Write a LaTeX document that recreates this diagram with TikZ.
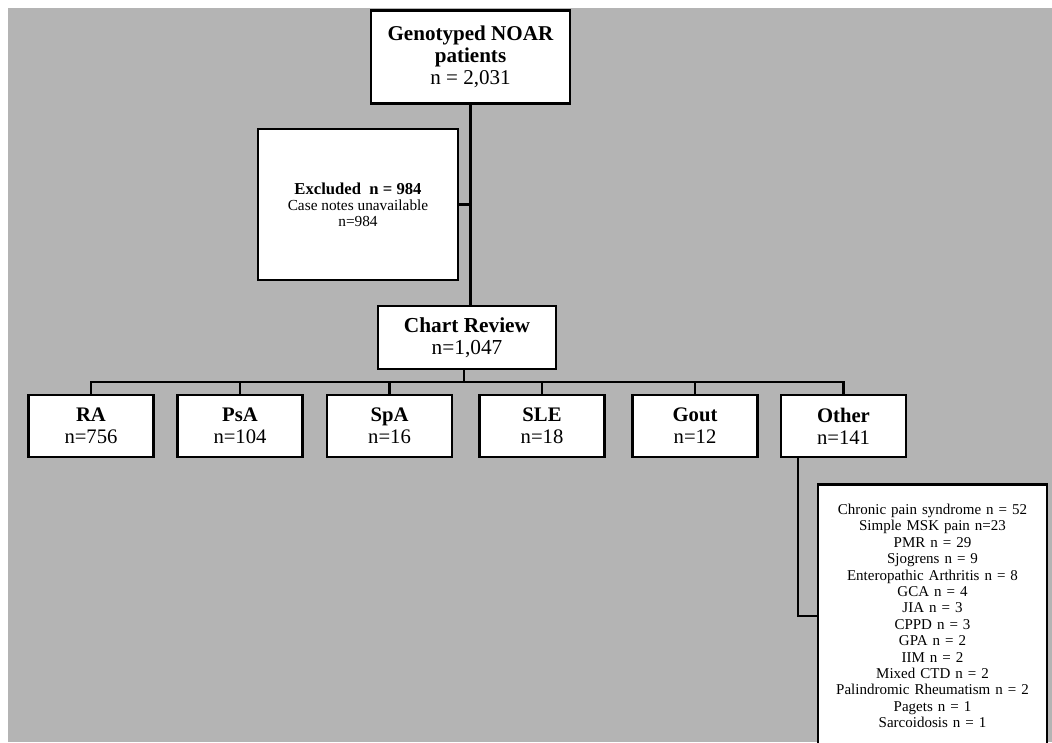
\documentclass[tikz,border=0pt]{standalone}
\usepackage{fontspec}
\setmainfont{Liberation Serif}
\definecolor{bggray}{RGB}{180,180,180}
\tikzset{
  box/.style={draw=black, line width=2pt, fill=white, align=center, inner sep=0pt},
  conn/.style={draw=black, line width=1.6pt},
  child/.style={box, minimum width=93.75pt, minimum height=46.5pt, font=\fontsize{15.5}{16.5}\selectfont},
}
\begin{document}
\begin{tikzpicture}[x=0.75pt, y=-0.75pt]
\clip (0,0) rectangle (1052,742);
\useasboundingbox (0,0) rectangle (1052,742);
\fill[white] (0,0) rectangle (1052,742);
\fill[bggray] (8,8) rectangle (1052,742);

\coordinate (busy) at (0,382);
\node[box, minimum width=149.25pt, minimum height=69.75pt, font=\fontsize{15.8}{16.4}\selectfont] (top) at (470.5,57)
  {\textbf{Genotyped NOAR}\\\textbf{patients}\\n = 2,031};
\node[box, minimum width=150pt, minimum height=113.25pt, font=\fontsize{11.5}{12}\selectfont] (excl) at (358,204.5)
  {{\fontsize{12.5}{12}\selectfont\textbf{Excluded\ \ n = 984}}\\Case notes unavailable\\n=984};
\node[box, minimum width=133.5pt, minimum height=47.25pt, font=\fontsize{16}{16.5}\selectfont] (chart) at (467,337.5)
  {\textbf{Chart Review}\\n=1,047};

\node[child] (ra) at (91,426) {\textbf{RA}\\n=756};
\node[child] (psa) at (240,426) {\textbf{PsA}\\n=104};
\node[child] (spa) at (389.5,426) {\textbf{SpA}\\n=16};
\node[child] (sle) at (542,426) {\textbf{SLE}\\n=18};
\node[child] (gout) at (695,426) {\textbf{Gout}\\n=12};
\node[child] (other) at (843.5,426) {\textbf{Other}\\n=141};

\node[box, anchor=north, text width=171.75pt, inner xsep=0pt, inner ysep=14.8pt, font=\fontsize{11.25}{12.3}\selectfont] (list) at (932.5,483)
  {Chronic pain syndrome n = 52\\
   Simple MSK pain n=23\\
   PMR n = 29\\
   Sjogrens n = 9\\
   Enteropathic Arthritis n = 8\\
   GCA n = 4\\
   JIA n = 3\\
   CPPD n = 3\\
   GPA n = 2\\
   IIM n = 2\\
   Mixed CTD n = 2\\
   Palindromic Rheumatism n = 2\\
   Pagets n = 1\\
   Sarcoidosis n = 1};

\draw[conn] (top.south) -- (top.south |- chart.north);
\draw[conn] (excl.east) -- (excl.east -| top.south);
\draw[conn] ([xshift=-2.25pt]chart.south) -- ([xshift=-2.25pt]chart.south |- busy);
\draw[conn] (ra.north) -- (ra.north |- busy) -- (other.north |- busy) -- (other.north);
\draw[conn] (psa.north) -- (psa.north |- busy);
\draw[conn] (spa.north) -- (spa.north |- busy);
\draw[conn] (sle.north) -- (sle.north |- busy);
\draw[conn] (gout.north) -- (gout.north |- busy);
\draw[conn] ([xshift=13.5pt]other.south west) |- (list.west);
\end{tikzpicture}
\end{document}
